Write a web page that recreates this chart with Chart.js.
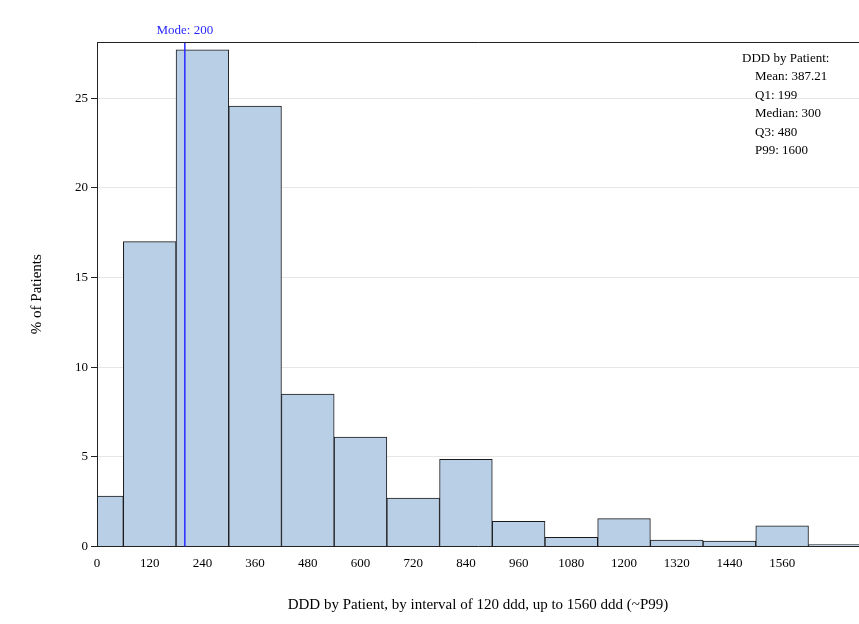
<!DOCTYPE html>
<html><head><meta charset="utf-8">
<script src="https://cdn.jsdelivr.net/npm/chart.js@4/dist/chart.umd.min.js"></script>
<style>html,body{margin:0;padding:0;background:#fff}#wrap{width:859px;height:624px}</style>
</head><body><div id="wrap"><canvas id="c"></canvas></div>
<script>
// bin centres and % of patients
const binCenters = [0, 120, 240, 360, 480, 600, 720, 840, 960, 1080, 1200, 1320, 1440, 1560, 1680];
const pctPatients = [2.8, 17.0, 27.7, 24.55, 8.5, 6.1, 2.7, 4.85, 1.4, 0.5, 1.55, 0.35, 0.3, 1.15, 0.1];
const xTicks = [0, 120, 240, 360, 480, 600, 720, 840, 960, 1080, 1200, 1320, 1440, 1560];
const yTicks = [0, 5, 10, 15, 20, 25];
const modeValue = 200;
const statLines = ['DDD by Patient:', 'Mean: 387.21', 'Q1: 199', 'Median: 300', 'Q3: 480', 'P99: 1600'];

const FONT = '"Liberation Serif", "DejaVu Serif", serif';

const extras = {
    id: 'extras',
    afterDatasetsDraw(chart) {
        const {ctx, chartArea, scales} = chart;
        const x = scales.x.getPixelForValue(modeValue);
        ctx.save();
        ctx.strokeStyle = '#2a2aff';
        ctx.lineWidth = 1.5;
        ctx.beginPath();
        ctx.moveTo(x, chartArea.top);
        ctx.lineTo(x, chartArea.bottom);
        ctx.stroke();
        ctx.fillStyle = '#2a2aff';
        ctx.font = '13px ' + FONT;
        ctx.textAlign = 'center';
        ctx.textBaseline = 'bottom';
        ctx.fillText('Mode: ' + modeValue, x, chartArea.top - 5);
        // frame
        ctx.strokeStyle = '#222';
        ctx.lineWidth = 1;
        ctx.beginPath();
        ctx.moveTo(chartArea.left + 0.5, chartArea.bottom);
        ctx.lineTo(chartArea.left + 0.5, chartArea.top + 0.5);
        ctx.lineTo(chartArea.right, chartArea.top + 0.5);
        ctx.stroke();
        // stats
        ctx.fillStyle = '#000';
        ctx.textAlign = 'left';
        ctx.textBaseline = 'top';
        statLines.forEach((s, i) => {
            ctx.fillText(s, i === 0 ? 742 : 755, 52 + i * 18.5);
        });
        ctx.restore();
    }
};

new Chart(document.getElementById('c'), {
    type: 'bar',
    data: {
        datasets: [{
            data: binCenters.map((c, i) => ({x: c, y: pctPatients[i]})),
            backgroundColor: '#b9cfe6',
            borderColor: '#1a1a1a',
            borderWidth: 1,
            barPercentage: 1,
            categoryPercentage: 1,
        }]
    },
    options: {
        responsive: true,
        maintainAspectRatio: false,
        animation: false,
        layout: {padding: {top: 42, right: 0, left: 24, bottom: 6}},
        plugins: {legend: {display: false}, tooltip: {enabled: false}},
        scales: {
            x: {
                type: 'linear',
                offset: false,
                min: 0, max: 1735,
                afterBuildTicks: ax => { ax.ticks = xTicks.map(v => ({value: v})); },
                ticks: {color: '#000', font: {family: FONT, size: 13}, maxRotation: 0, autoSkip: false, callback: v => String(v)},
                grid: {display: false, drawTicks: true, tickLength: 6, color: '#222', offset: false},
                border: {color: '#222'},
                title: {display: true, text: 'DDD by Patient, by interval of 120 ddd, up to 1560 ddd (~P99)', color: '#000', font: {family: FONT, size: 15}, padding: {top: 22}}
            },
            y: {
                min: 0, max: 28.13,
                afterBuildTicks: ax => { ax.ticks = yTicks.map(v => ({value: v})); },
                ticks: {color: '#000', font: {family: FONT, size: 13}},
                grid: {color: '#e6e6e6', tickLength: 6, tickColor: '#222'},
                border: {color: '#222'},
                title: {display: true, text: '% of Patients', color: '#000', font: {family: FONT, size: 15}, padding: {bottom: 26}}
            }
        }
    },
    plugins: [extras]
});
</script></body></html>
